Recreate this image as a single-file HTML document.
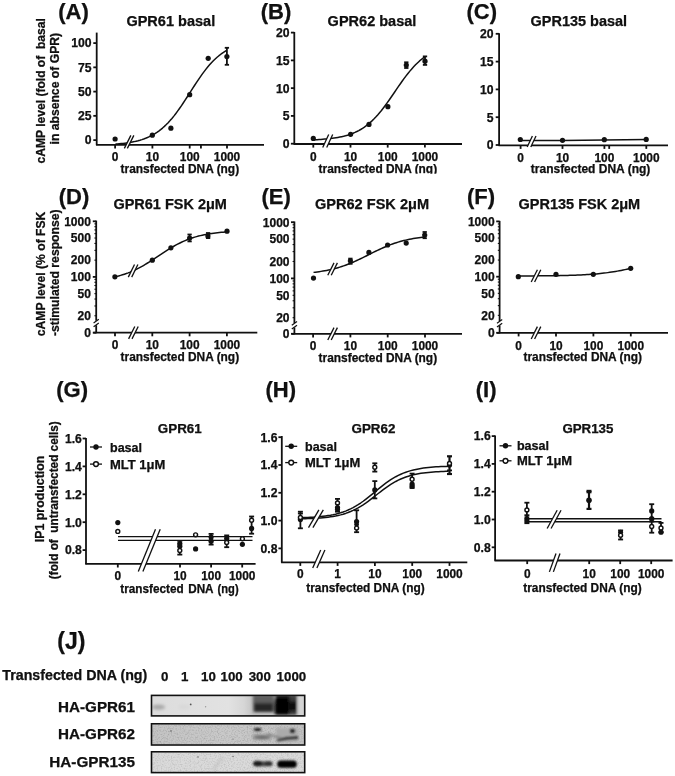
<!DOCTYPE html>
<html><head><meta charset="utf-8"><style>
html,body{margin:0;padding:0;background:#fff;}
svg{display:block;font-family:"Liberation Sans", sans-serif;filter:grayscale(1);}
text{stroke:#000;stroke-width:0.25px;stroke-linejoin:round;}
</style></head><body>
<svg width="675" height="776" viewBox="0 0 675 776">
<defs><filter id="soft" x="0" y="0" width="675" height="776" filterUnits="userSpaceOnUse"><feConvolveMatrix order="3" kernelMatrix="0.00000 0.00000 0.00000 0.00000 1.00000 0.00000 0.00000 0.00000 0.00000" edgeMode="duplicate"/></filter></defs>
<rect width="675" height="776" fill="#fff"/>
<g>
<rect width="675" height="776" fill="#fff"/>
<text x="58.2" y="18.8" font-size="22" text-anchor="start" font-weight="bold" fill="#111">(A)</text>
<text x="126.4" y="25.9" font-size="14.5" text-anchor="start" font-weight="bold" fill="#111" textLength="88.8" lengthAdjust="spacingAndGlyphs">GPR61 basal</text>
<text transform="translate(44.5 163.4) rotate(-90)" font-size="12.2" text-anchor="start" font-weight="bold" fill="#111" textLength="145.2" lengthAdjust="spacingAndGlyphs">cAMP level (fold of &#160;basal</text>
<text transform="translate(59.3 144.5) rotate(-90)" font-size="12.2" text-anchor="start" font-weight="bold" fill="#111" textLength="111.6" lengthAdjust="spacingAndGlyphs">in absence of GPR)</text>
<line x1="96.7" y1="32.6" x2="96.7" y2="145.2" stroke="#111" stroke-width="1.8"/>
<line x1="93.3" y1="140.1" x2="96.7" y2="140.1" stroke="#111" stroke-width="1.8"/>
<text x="91.6" y="144.49" font-size="12.2" text-anchor="end" font-weight="bold" fill="#111">0</text>
<line x1="93.3" y1="115.85" x2="96.7" y2="115.85" stroke="#111" stroke-width="1.8"/>
<text x="91.6" y="120.24" font-size="12.2" text-anchor="end" font-weight="bold" fill="#111">25</text>
<line x1="93.3" y1="91.6" x2="96.7" y2="91.6" stroke="#111" stroke-width="1.8"/>
<text x="91.6" y="95.99" font-size="12.2" text-anchor="end" font-weight="bold" fill="#111">50</text>
<line x1="93.3" y1="67.35" x2="96.7" y2="67.35" stroke="#111" stroke-width="1.8"/>
<text x="91.6" y="71.74" font-size="12.2" text-anchor="end" font-weight="bold" fill="#111">75</text>
<line x1="93.3" y1="43.1" x2="96.7" y2="43.1" stroke="#111" stroke-width="1.8"/>
<text x="91.6" y="47.49" font-size="12.2" text-anchor="end" font-weight="bold" fill="#111">100</text>
<line x1="96.1" y1="144.9" x2="264" y2="144.9" stroke="#111" stroke-width="1.8"/>
<line x1="115.1" y1="144.9" x2="115.1" y2="148.5" stroke="#111" stroke-width="1.8"/>
<text x="115.1" y="160.93" font-size="11.9" text-anchor="middle" font-weight="bold" fill="#111">0</text>
<line x1="152.4" y1="144.9" x2="152.4" y2="148.5" stroke="#111" stroke-width="1.8"/>
<text x="152.4" y="160.93" font-size="11.9" text-anchor="middle" font-weight="bold" fill="#111">10</text>
<line x1="189.7" y1="144.9" x2="189.7" y2="148.5" stroke="#111" stroke-width="1.8"/>
<text x="189.7" y="160.93" font-size="11.9" text-anchor="middle" font-weight="bold" fill="#111">100</text>
<line x1="200.93" y1="144.9" x2="200.93" y2="148.5" stroke="#111" stroke-width="1.8"/>
<line x1="227" y1="144.9" x2="227" y2="148.5" stroke="#111" stroke-width="1.8"/>
<text x="227" y="160.93" font-size="11.9" text-anchor="middle" font-weight="bold" fill="#111">1000</text>
<text x="120.6" y="173.4" font-size="12" text-anchor="start" font-weight="bold" fill="#111" textLength="118.5" lengthAdjust="spacingAndGlyphs">transfected DNA (ng)</text>
<path d="M115.5 144.09 L117.38 143.94 L119.26 143.78 L121.14 143.6 L123.03 143.4 L124.91 143.17 L126.79 142.92 L128.67 142.64 L130.55 142.33 L132.43 141.99 L134.31 141.61 L136.19 141.18 L138.08 140.71 L139.96 140.19 L141.84 139.62 L143.72 138.98 L145.6 138.28 L147.48 137.51 L149.36 136.66 L151.25 135.73 L153.13 134.71 L155.01 133.59 L156.89 132.37 L158.77 131.05 L160.65 129.61 L162.53 128.05 L164.42 126.38 L166.3 124.58 L168.18 122.65 L170.06 120.6 L171.94 118.42 L173.82 116.12 L175.7 113.7 L177.58 111.17 L179.47 108.54 L181.35 105.82 L183.23 103.02 L185.11 100.16 L186.99 97.25 L188.87 94.31 L190.75 91.36 L192.64 88.42 L194.52 85.5 L196.4 82.62 L198.28 79.81 L200.16 77.06 L202.04 74.41 L203.92 71.85 L205.81 69.41 L207.69 67.07 L209.57 64.86 L211.45 62.78 L213.33 60.82 L215.21 58.99 L217.09 57.28 L218.97 55.7 L220.86 54.23 L222.74 52.88 L224.62 51.63 L226.5 50.49" fill="none" stroke="#111" stroke-width="1.5" stroke-linejoin="round"/>
<polygon points="124.35,148.4 130.85,135.4 133.85,135.4 127.35,148.4" fill="#fff"/>
<line x1="124.35" y1="148.4" x2="130.85" y2="135.4" stroke="#111" stroke-width="1.3"/>
<line x1="127.35" y1="148.4" x2="133.85" y2="135.4" stroke="#111" stroke-width="1.3"/>
<circle cx="115.1" cy="139" r="2.6" fill="#111"/>
<circle cx="152.3" cy="135.2" r="2.6" fill="#111"/>
<circle cx="170.9" cy="128.2" r="2.6" fill="#111"/>
<circle cx="189.7" cy="94.7" r="2.6" fill="#111"/>
<circle cx="208.2" cy="58.3" r="2.6" fill="#111"/>
<circle cx="226.9" cy="56.6" r="2.6" fill="#111"/>
<line x1="226.9" y1="47.8" x2="226.9" y2="64.8" stroke="#111" stroke-width="1.8"/>
<line x1="224.75" y1="47.8" x2="229.05" y2="47.8" stroke="#111" stroke-width="1.8"/>
<line x1="224.75" y1="64.8" x2="229.05" y2="64.8" stroke="#111" stroke-width="1.8"/>
<text x="260.8" y="18.8" font-size="22" text-anchor="start" font-weight="bold" fill="#111">(B)</text>
<text x="327.6" y="25.9" font-size="14.5" text-anchor="start" font-weight="bold" fill="#111" textLength="88.8" lengthAdjust="spacingAndGlyphs">GPR62 basal</text>
<line x1="294.3" y1="32" x2="294.3" y2="144.2" stroke="#111" stroke-width="1.8"/>
<line x1="290.9" y1="143.7" x2="294.3" y2="143.7" stroke="#111" stroke-width="1.8"/>
<text x="289.6" y="148.09" font-size="12.2" text-anchor="end" font-weight="bold" fill="#111">0</text>
<line x1="290.9" y1="115.92" x2="294.3" y2="115.92" stroke="#111" stroke-width="1.8"/>
<text x="289.6" y="120.32" font-size="12.2" text-anchor="end" font-weight="bold" fill="#111">5</text>
<line x1="290.9" y1="88.15" x2="294.3" y2="88.15" stroke="#111" stroke-width="1.8"/>
<text x="289.6" y="92.54" font-size="12.2" text-anchor="end" font-weight="bold" fill="#111">10</text>
<line x1="290.9" y1="60.38" x2="294.3" y2="60.38" stroke="#111" stroke-width="1.8"/>
<text x="289.6" y="64.77" font-size="12.2" text-anchor="end" font-weight="bold" fill="#111">15</text>
<line x1="290.9" y1="32.6" x2="294.3" y2="32.6" stroke="#111" stroke-width="1.8"/>
<text x="289.6" y="36.99" font-size="12.2" text-anchor="end" font-weight="bold" fill="#111">20</text>
<line x1="293.6" y1="144" x2="462" y2="144" stroke="#111" stroke-width="1.8"/>
<line x1="313.3" y1="144" x2="313.3" y2="147.6" stroke="#111" stroke-width="1.8"/>
<text x="313.3" y="160.93" font-size="11.9" text-anchor="middle" font-weight="bold" fill="#111">0</text>
<line x1="350.5" y1="144" x2="350.5" y2="147.6" stroke="#111" stroke-width="1.8"/>
<text x="350.5" y="160.93" font-size="11.9" text-anchor="middle" font-weight="bold" fill="#111">10</text>
<line x1="387.7" y1="144" x2="387.7" y2="147.6" stroke="#111" stroke-width="1.8"/>
<text x="387.7" y="160.93" font-size="11.9" text-anchor="middle" font-weight="bold" fill="#111">100</text>
<line x1="424.9" y1="144" x2="424.9" y2="147.6" stroke="#111" stroke-width="1.8"/>
<text x="424.9" y="160.93" font-size="11.9" text-anchor="middle" font-weight="bold" fill="#111">1000</text>
<text x="318.6" y="173.4" font-size="12" text-anchor="start" font-weight="bold" fill="#111" textLength="118.5" lengthAdjust="spacingAndGlyphs">transfected DNA (ng)</text>
<rect x="300" y="173.7" width="160" height="6" fill="#fff"/>
<path d="M313.3 139.81 L315.19 139.73 L317.09 139.63 L318.98 139.53 L320.87 139.41 L322.77 139.27 L324.66 139.12 L326.55 138.95 L328.45 138.77 L330.34 138.56 L332.23 138.33 L334.13 138.07 L336.02 137.78 L337.91 137.46 L339.81 137.1 L341.7 136.7 L343.59 136.26 L345.48 135.77 L347.38 135.23 L349.27 134.63 L351.16 133.96 L353.06 133.23 L354.95 132.42 L356.84 131.53 L358.74 130.56 L360.63 129.49 L362.52 128.33 L364.42 127.06 L366.31 125.68 L368.2 124.19 L370.1 122.58 L371.99 120.85 L373.88 119 L375.78 117.03 L377.67 114.94 L379.56 112.73 L381.46 110.42 L383.35 108 L385.24 105.48 L387.14 102.88 L389.03 100.22 L390.92 97.5 L392.82 94.75 L394.71 91.97 L396.6 89.2 L398.49 86.44 L400.39 83.71 L402.28 81.04 L404.17 78.43 L406.07 75.9 L407.96 73.46 L409.85 71.13 L411.75 68.9 L413.64 66.79 L415.53 64.8 L417.43 62.93 L419.32 61.18 L421.21 59.55 L423.11 58.04 L425 56.64" fill="none" stroke="#111" stroke-width="1.5" stroke-linejoin="round"/>
<polygon points="322.7,147.5 328.7,134.5 332.7,134.5 326.7,147.5" fill="#fff"/>
<line x1="322.7" y1="147.5" x2="328.7" y2="134.5" stroke="#111" stroke-width="1.3"/>
<line x1="326.7" y1="147.5" x2="332.7" y2="134.5" stroke="#111" stroke-width="1.3"/>
<circle cx="313.3" cy="138.4" r="2.6" fill="#111"/>
<circle cx="350.6" cy="134.3" r="2.6" fill="#111"/>
<circle cx="369" cy="124.4" r="2.6" fill="#111"/>
<circle cx="387.9" cy="106.7" r="2.6" fill="#111"/>
<circle cx="406.3" cy="65.1" r="2.6" fill="#111"/>
<circle cx="425" cy="61.2" r="2.6" fill="#111"/>
<line x1="406.3" y1="62.3" x2="406.3" y2="68" stroke="#111" stroke-width="1.8"/>
<line x1="404.15" y1="62.3" x2="408.45" y2="62.3" stroke="#111" stroke-width="1.8"/>
<line x1="404.15" y1="68" x2="408.45" y2="68" stroke="#111" stroke-width="1.8"/>
<line x1="425" y1="56.4" x2="425" y2="64.9" stroke="#111" stroke-width="1.8"/>
<line x1="422.85" y1="56.4" x2="427.15" y2="56.4" stroke="#111" stroke-width="1.8"/>
<line x1="422.85" y1="64.9" x2="427.15" y2="64.9" stroke="#111" stroke-width="1.8"/>
<text x="466.5" y="18.8" font-size="22" text-anchor="start" font-weight="bold" fill="#111">(C)</text>
<text x="530.6" y="25.9" font-size="14.5" text-anchor="start" font-weight="bold" fill="#111" textLength="96.5" lengthAdjust="spacingAndGlyphs">GPR135 basal</text>
<line x1="499.1" y1="33.3" x2="499.1" y2="145.6" stroke="#111" stroke-width="1.8"/>
<line x1="495.7" y1="145" x2="499.1" y2="145" stroke="#111" stroke-width="1.8"/>
<text x="493.6" y="149.39" font-size="12.2" text-anchor="end" font-weight="bold" fill="#111">0</text>
<line x1="495.7" y1="117.2" x2="499.1" y2="117.2" stroke="#111" stroke-width="1.8"/>
<text x="493.6" y="121.59" font-size="12.2" text-anchor="end" font-weight="bold" fill="#111">5</text>
<line x1="495.7" y1="89.4" x2="499.1" y2="89.4" stroke="#111" stroke-width="1.8"/>
<text x="493.6" y="93.79" font-size="12.2" text-anchor="end" font-weight="bold" fill="#111">10</text>
<line x1="495.7" y1="61.6" x2="499.1" y2="61.6" stroke="#111" stroke-width="1.8"/>
<text x="493.6" y="65.99" font-size="12.2" text-anchor="end" font-weight="bold" fill="#111">15</text>
<line x1="495.7" y1="33.8" x2="499.1" y2="33.8" stroke="#111" stroke-width="1.8"/>
<text x="493.6" y="38.19" font-size="12.2" text-anchor="end" font-weight="bold" fill="#111">20</text>
<line x1="498.5" y1="145.3" x2="668" y2="145.3" stroke="#111" stroke-width="1.8"/>
<line x1="520.6" y1="145.3" x2="520.6" y2="148.9" stroke="#111" stroke-width="1.8"/>
<text x="520.6" y="161.63" font-size="11.9" text-anchor="middle" font-weight="bold" fill="#111">0</text>
<line x1="562.5" y1="145.3" x2="562.5" y2="148.9" stroke="#111" stroke-width="1.8"/>
<text x="562.5" y="161.63" font-size="11.9" text-anchor="middle" font-weight="bold" fill="#111">10</text>
<line x1="604.4" y1="145.3" x2="604.4" y2="148.9" stroke="#111" stroke-width="1.8"/>
<text x="604.4" y="161.63" font-size="11.9" text-anchor="middle" font-weight="bold" fill="#111">100</text>
<line x1="609.2" y1="145.3" x2="609.2" y2="148.9" stroke="#111" stroke-width="1.8"/>
<line x1="646.3" y1="145.3" x2="646.3" y2="148.9" stroke="#111" stroke-width="1.8"/>
<text x="646.3" y="161.63" font-size="11.9" text-anchor="middle" font-weight="bold" fill="#111">1000</text>
<text x="530.8" y="173.1" font-size="12" text-anchor="start" font-weight="bold" fill="#111" textLength="119.5" lengthAdjust="spacingAndGlyphs">transfected DNA (ng)</text>
<path d="M520.3 140.6 L562.5 140.4 L604.3 140 L646.2 139.4" fill="none" stroke="#111" stroke-width="1.5" stroke-linejoin="round"/>
<polygon points="527.2,147 532.4,136 536,136 530.8,147" fill="#fff"/>
<line x1="527.2" y1="147" x2="532.4" y2="136" stroke="#111" stroke-width="1.3"/>
<line x1="530.8" y1="147" x2="536" y2="136" stroke="#111" stroke-width="1.3"/>
<circle cx="520.3" cy="139.5" r="2.6" fill="#111"/>
<circle cx="562.5" cy="140.3" r="2.6" fill="#111"/>
<circle cx="604.3" cy="139.7" r="2.6" fill="#111"/>
<circle cx="646.2" cy="139.4" r="2.6" fill="#111"/>
<text x="58.8" y="204" font-size="22" text-anchor="start" font-weight="bold" fill="#111">(D)</text>
<text x="113.4" y="209.3" font-size="14.5" text-anchor="start" font-weight="bold" fill="#111" textLength="113.5" lengthAdjust="spacingAndGlyphs">GPR61 FSK 2μM</text>
<text transform="translate(44.6 336.2) rotate(-90)" font-size="12.1" text-anchor="start" font-weight="bold" fill="#111" textLength="124.6" lengthAdjust="spacingAndGlyphs">cAMP level (% of FSK</text>
<text transform="translate(59.4 336) rotate(-90)" font-size="12.1" text-anchor="start" font-weight="bold" fill="#111" textLength="126.6" lengthAdjust="spacingAndGlyphs">-stimulated response)</text>
<line x1="96.2" y1="220.6" x2="96.2" y2="320.8" stroke="#111" stroke-width="1.8"/>
<line x1="96.2" y1="325.2" x2="96.2" y2="333.2" stroke="#111" stroke-width="1.8"/>
<text x="90.9" y="320.08" font-size="12" text-anchor="end" font-weight="bold" fill="#111">20</text>
<text x="90.9" y="297.96" font-size="12" text-anchor="end" font-weight="bold" fill="#111">50</text>
<text x="90.9" y="281.22" font-size="12" text-anchor="end" font-weight="bold" fill="#111">100</text>
<text x="90.9" y="264.48" font-size="12" text-anchor="end" font-weight="bold" fill="#111">200</text>
<text x="90.9" y="242.36" font-size="12" text-anchor="end" font-weight="bold" fill="#111">500</text>
<text x="90.9" y="225.62" font-size="12" text-anchor="end" font-weight="bold" fill="#111">1000</text>
<line x1="92.8" y1="276.9" x2="96.2" y2="276.9" stroke="#111" stroke-width="1.8"/>
<line x1="92.8" y1="221.3" x2="96.2" y2="221.3" stroke="#111" stroke-width="1.8"/>
<line x1="92.8" y1="332.7" x2="96.2" y2="332.7" stroke="#111" stroke-width="1.8"/>
<text x="90.9" y="337.02" font-size="12" text-anchor="end" font-weight="bold" fill="#111">0</text>
<line x1="94.4" y1="315.76" x2="96.2" y2="315.76" stroke="#111" stroke-width="1.1"/>
<line x1="94.4" y1="305.97" x2="96.2" y2="305.97" stroke="#111" stroke-width="1.1"/>
<line x1="94.4" y1="299.03" x2="96.2" y2="299.03" stroke="#111" stroke-width="1.1"/>
<line x1="94.4" y1="293.64" x2="96.2" y2="293.64" stroke="#111" stroke-width="1.1"/>
<line x1="94.4" y1="289.23" x2="96.2" y2="289.23" stroke="#111" stroke-width="1.1"/>
<line x1="94.4" y1="285.51" x2="96.2" y2="285.51" stroke="#111" stroke-width="1.1"/>
<line x1="94.4" y1="282.29" x2="96.2" y2="282.29" stroke="#111" stroke-width="1.1"/>
<line x1="94.4" y1="279.44" x2="96.2" y2="279.44" stroke="#111" stroke-width="1.1"/>
<line x1="94.4" y1="260.16" x2="96.2" y2="260.16" stroke="#111" stroke-width="1.1"/>
<line x1="94.4" y1="250.37" x2="96.2" y2="250.37" stroke="#111" stroke-width="1.1"/>
<line x1="94.4" y1="243.43" x2="96.2" y2="243.43" stroke="#111" stroke-width="1.1"/>
<line x1="94.4" y1="238.04" x2="96.2" y2="238.04" stroke="#111" stroke-width="1.1"/>
<line x1="94.4" y1="233.63" x2="96.2" y2="233.63" stroke="#111" stroke-width="1.1"/>
<line x1="94.4" y1="229.91" x2="96.2" y2="229.91" stroke="#111" stroke-width="1.1"/>
<line x1="94.4" y1="226.69" x2="96.2" y2="226.69" stroke="#111" stroke-width="1.1"/>
<line x1="94.4" y1="223.84" x2="96.2" y2="223.84" stroke="#111" stroke-width="1.1"/>
<polygon points="93.6,323 98.8,319.2 98.8,323 93.6,326.8" fill="#fff"/>
<line x1="93.6" y1="323" x2="98.8" y2="319.2" stroke="#111" stroke-width="1.2"/>
<line x1="93.6" y1="326.8" x2="98.8" y2="323" stroke="#111" stroke-width="1.2"/>
<line x1="93.4" y1="332.7" x2="257.3" y2="332.7" stroke="#111" stroke-width="1.8"/>
<line x1="115" y1="332.7" x2="115" y2="336.3" stroke="#111" stroke-width="1.8"/>
<text x="115" y="348.93" font-size="11.9" text-anchor="middle" font-weight="bold" fill="#111">0</text>
<line x1="152.3" y1="332.7" x2="152.3" y2="336.3" stroke="#111" stroke-width="1.8"/>
<text x="152.3" y="348.93" font-size="11.9" text-anchor="middle" font-weight="bold" fill="#111">10</text>
<line x1="189.6" y1="332.7" x2="189.6" y2="336.3" stroke="#111" stroke-width="1.8"/>
<text x="189.6" y="348.93" font-size="11.9" text-anchor="middle" font-weight="bold" fill="#111">100</text>
<line x1="226.9" y1="332.7" x2="226.9" y2="336.3" stroke="#111" stroke-width="1.8"/>
<text x="226.9" y="348.93" font-size="11.9" text-anchor="middle" font-weight="bold" fill="#111">1000</text>
<text x="120.6" y="360.5" font-size="12" text-anchor="start" font-weight="bold" fill="#111" textLength="118.5" lengthAdjust="spacingAndGlyphs">transfected DNA (ng)</text>
<path d="M114.9 276.84 L116.8 276.39 L118.7 275.9 L120.6 275.37 L122.5 274.8 L124.4 274.19 L126.3 273.54 L128.2 272.84 L130.1 272.09 L132 271.29 L133.9 270.45 L135.8 269.56 L137.7 268.62 L139.6 267.63 L141.5 266.6 L143.4 265.53 L145.3 264.41 L147.2 263.26 L149.1 262.08 L151 260.87 L152.9 259.64 L154.8 258.39 L156.7 257.12 L158.6 255.86 L160.5 254.59 L162.4 253.33 L164.3 252.09 L166.2 250.86 L168.1 249.66 L170 248.49 L171.9 247.35 L173.8 246.25 L175.7 245.19 L177.6 244.18 L179.5 243.21 L181.4 242.29 L183.3 241.41 L185.2 240.58 L187.1 239.8 L189 239.07 L190.9 238.39 L192.8 237.75 L194.7 237.15 L196.6 236.6 L198.5 236.09 L200.4 235.61 L202.3 235.17 L204.2 234.77 L206.1 234.39 L208 234.05 L209.9 233.73 L211.8 233.44 L213.7 233.18 L215.6 232.94 L217.5 232.72 L219.4 232.51 L221.3 232.33 L223.2 232.16 L225.1 232.01 L227 231.87" fill="none" stroke="#111" stroke-width="1.5" stroke-linejoin="round"/>
<polygon points="128.3,277.1 134.5,264.5 137.9,264.5 131.7,277.1" fill="#fff"/>
<line x1="128.3" y1="277.1" x2="134.5" y2="264.5" stroke="#111" stroke-width="1.3"/>
<line x1="131.7" y1="277.1" x2="137.9" y2="264.5" stroke="#111" stroke-width="1.3"/>
<polygon points="128.6,338.9 134.8,326.5 138.2,326.5 132,338.9" fill="#fff"/>
<line x1="128.6" y1="338.9" x2="134.8" y2="326.5" stroke="#111" stroke-width="1.3"/>
<line x1="132" y1="338.9" x2="138.2" y2="326.5" stroke="#111" stroke-width="1.3"/>
<circle cx="114.9" cy="276.8" r="2.6" fill="#111"/>
<circle cx="152.3" cy="260.2" r="2.6" fill="#111"/>
<circle cx="170.9" cy="247.8" r="2.6" fill="#111"/>
<circle cx="189.6" cy="238" r="2.6" fill="#111"/>
<circle cx="207.9" cy="235.9" r="2.6" fill="#111"/>
<circle cx="227" cy="231.2" r="2.6" fill="#111"/>
<line x1="189.6" y1="234.5" x2="189.6" y2="241.4" stroke="#111" stroke-width="1.8"/>
<line x1="187.45" y1="234.5" x2="191.75" y2="234.5" stroke="#111" stroke-width="1.8"/>
<line x1="187.45" y1="241.4" x2="191.75" y2="241.4" stroke="#111" stroke-width="1.8"/>
<line x1="208.1" y1="233" x2="208.1" y2="238.1" stroke="#111" stroke-width="1.8"/>
<line x1="205.95" y1="233" x2="210.25" y2="233" stroke="#111" stroke-width="1.8"/>
<line x1="205.95" y1="238.1" x2="210.25" y2="238.1" stroke="#111" stroke-width="1.8"/>
<text x="261.5" y="204" font-size="22" text-anchor="start" font-weight="bold" fill="#111">(E)</text>
<text x="315" y="209.3" font-size="14.5" text-anchor="start" font-weight="bold" fill="#111" textLength="114" lengthAdjust="spacingAndGlyphs">GPR62 FSK 2μM</text>
<line x1="294.4" y1="221.5" x2="294.4" y2="323.1" stroke="#111" stroke-width="1.8"/>
<line x1="294.4" y1="327.5" x2="294.4" y2="334.3" stroke="#111" stroke-width="1.8"/>
<text x="289.5" y="322" font-size="12" text-anchor="end" font-weight="bold" fill="#111">20</text>
<text x="289.5" y="299.64" font-size="12" text-anchor="end" font-weight="bold" fill="#111">50</text>
<text x="289.5" y="282.72" font-size="12" text-anchor="end" font-weight="bold" fill="#111">100</text>
<text x="289.5" y="265.8" font-size="12" text-anchor="end" font-weight="bold" fill="#111">200</text>
<text x="289.5" y="243.44" font-size="12" text-anchor="end" font-weight="bold" fill="#111">500</text>
<text x="289.5" y="226.52" font-size="12" text-anchor="end" font-weight="bold" fill="#111">1000</text>
<line x1="291" y1="278.4" x2="294.4" y2="278.4" stroke="#111" stroke-width="1.8"/>
<line x1="291" y1="222.2" x2="294.4" y2="222.2" stroke="#111" stroke-width="1.8"/>
<line x1="291" y1="333.8" x2="294.4" y2="333.8" stroke="#111" stroke-width="1.8"/>
<text x="289.5" y="338.12" font-size="12" text-anchor="end" font-weight="bold" fill="#111">0</text>
<line x1="292.6" y1="317.68" x2="294.4" y2="317.68" stroke="#111" stroke-width="1.1"/>
<line x1="292.6" y1="307.79" x2="294.4" y2="307.79" stroke="#111" stroke-width="1.1"/>
<line x1="292.6" y1="300.76" x2="294.4" y2="300.76" stroke="#111" stroke-width="1.1"/>
<line x1="292.6" y1="295.32" x2="294.4" y2="295.32" stroke="#111" stroke-width="1.1"/>
<line x1="292.6" y1="290.87" x2="294.4" y2="290.87" stroke="#111" stroke-width="1.1"/>
<line x1="292.6" y1="287.11" x2="294.4" y2="287.11" stroke="#111" stroke-width="1.1"/>
<line x1="292.6" y1="283.85" x2="294.4" y2="283.85" stroke="#111" stroke-width="1.1"/>
<line x1="292.6" y1="280.97" x2="294.4" y2="280.97" stroke="#111" stroke-width="1.1"/>
<line x1="292.6" y1="261.48" x2="294.4" y2="261.48" stroke="#111" stroke-width="1.1"/>
<line x1="292.6" y1="251.59" x2="294.4" y2="251.59" stroke="#111" stroke-width="1.1"/>
<line x1="292.6" y1="244.56" x2="294.4" y2="244.56" stroke="#111" stroke-width="1.1"/>
<line x1="292.6" y1="239.12" x2="294.4" y2="239.12" stroke="#111" stroke-width="1.1"/>
<line x1="292.6" y1="234.67" x2="294.4" y2="234.67" stroke="#111" stroke-width="1.1"/>
<line x1="292.6" y1="230.91" x2="294.4" y2="230.91" stroke="#111" stroke-width="1.1"/>
<line x1="292.6" y1="227.65" x2="294.4" y2="227.65" stroke="#111" stroke-width="1.1"/>
<line x1="292.6" y1="224.77" x2="294.4" y2="224.77" stroke="#111" stroke-width="1.1"/>
<polygon points="291.8,325.3 297,321.5 297,325.3 291.8,329.1" fill="#fff"/>
<line x1="291.8" y1="325.3" x2="297" y2="321.5" stroke="#111" stroke-width="1.2"/>
<line x1="291.8" y1="329.1" x2="297" y2="325.3" stroke="#111" stroke-width="1.2"/>
<line x1="291.6" y1="333.8" x2="462" y2="333.8" stroke="#111" stroke-width="1.8"/>
<line x1="313.1" y1="333.8" x2="313.1" y2="337.4" stroke="#111" stroke-width="1.8"/>
<text x="313.1" y="349.63" font-size="11.9" text-anchor="middle" font-weight="bold" fill="#111">0</text>
<line x1="350.4" y1="333.8" x2="350.4" y2="337.4" stroke="#111" stroke-width="1.8"/>
<text x="350.4" y="349.63" font-size="11.9" text-anchor="middle" font-weight="bold" fill="#111">10</text>
<line x1="387.7" y1="333.8" x2="387.7" y2="337.4" stroke="#111" stroke-width="1.8"/>
<text x="387.7" y="349.63" font-size="11.9" text-anchor="middle" font-weight="bold" fill="#111">100</text>
<line x1="425" y1="333.8" x2="425" y2="337.4" stroke="#111" stroke-width="1.8"/>
<text x="425" y="349.63" font-size="11.9" text-anchor="middle" font-weight="bold" fill="#111">1000</text>
<text x="318.6" y="361.8" font-size="12" text-anchor="start" font-weight="bold" fill="#111" textLength="118.5" lengthAdjust="spacingAndGlyphs">transfected DNA (ng)</text>
<path d="M313.5 272.37 L315.38 272.15 L317.26 271.91 L319.14 271.66 L321.03 271.38 L322.91 271.08 L324.79 270.75 L326.67 270.4 L328.55 270.02 L330.43 269.61 L332.31 269.18 L334.19 268.71 L336.08 268.21 L337.96 267.68 L339.84 267.11 L341.72 266.51 L343.6 265.88 L345.48 265.21 L347.36 264.5 L349.25 263.77 L351.13 263 L353.01 262.2 L354.89 261.37 L356.77 260.52 L358.65 259.64 L360.53 258.74 L362.42 257.83 L364.3 256.9 L366.18 255.96 L368.06 255.01 L369.94 254.07 L371.82 253.13 L373.7 252.19 L375.58 251.27 L377.47 250.36 L379.35 249.47 L381.23 248.6 L383.11 247.75 L384.99 246.94 L386.87 246.15 L388.75 245.39 L390.64 244.67 L392.52 243.98 L394.4 243.33 L396.28 242.71 L398.16 242.12 L400.04 241.57 L401.92 241.05 L403.81 240.56 L405.69 240.11 L407.57 239.68 L409.45 239.29 L411.33 238.92 L413.21 238.58 L415.09 238.27 L416.97 237.97 L418.86 237.7 L420.74 237.46 L422.62 237.23 L424.5 237.02" fill="none" stroke="#111" stroke-width="1.5" stroke-linejoin="round"/>
<polygon points="327.8,275.31 334,262.91 337.4,262.91 331.2,275.31" fill="#fff"/>
<line x1="327.8" y1="275.31" x2="334" y2="262.91" stroke="#111" stroke-width="1.3"/>
<line x1="331.2" y1="275.31" x2="337.4" y2="262.91" stroke="#111" stroke-width="1.3"/>
<polygon points="327.8,340 334,327.6 337.4,327.6 331.2,340" fill="#fff"/>
<line x1="327.8" y1="340" x2="334" y2="327.6" stroke="#111" stroke-width="1.3"/>
<line x1="331.2" y1="340" x2="337.4" y2="327.6" stroke="#111" stroke-width="1.3"/>
<circle cx="313.5" cy="278.1" r="2.6" fill="#111"/>
<circle cx="350.4" cy="260.8" r="2.6" fill="#111"/>
<circle cx="368.9" cy="252.4" r="2.6" fill="#111"/>
<circle cx="387.6" cy="245" r="2.6" fill="#111"/>
<circle cx="406.2" cy="243.1" r="2.6" fill="#111"/>
<circle cx="424.7" cy="235.1" r="2.6" fill="#111"/>
<line x1="350.4" y1="258.6" x2="350.4" y2="263.8" stroke="#111" stroke-width="1.8"/>
<line x1="348.25" y1="258.6" x2="352.55" y2="258.6" stroke="#111" stroke-width="1.8"/>
<line x1="348.25" y1="263.8" x2="352.55" y2="263.8" stroke="#111" stroke-width="1.8"/>
<line x1="424.7" y1="232" x2="424.7" y2="238.2" stroke="#111" stroke-width="1.8"/>
<line x1="422.55" y1="232" x2="426.85" y2="232" stroke="#111" stroke-width="1.8"/>
<line x1="422.55" y1="238.2" x2="426.85" y2="238.2" stroke="#111" stroke-width="1.8"/>
<text x="467" y="204" font-size="22" text-anchor="start" font-weight="bold" fill="#111">(F)</text>
<text x="518.5" y="209.3" font-size="14.5" text-anchor="start" font-weight="bold" fill="#111" textLength="121.7" lengthAdjust="spacingAndGlyphs">GPR135 FSK 2μM</text>
<line x1="499.6" y1="220.9" x2="499.6" y2="321" stroke="#111" stroke-width="1.8"/>
<line x1="499.6" y1="325.4" x2="499.6" y2="333.3" stroke="#111" stroke-width="1.8"/>
<text x="494.6" y="319.67" font-size="12" text-anchor="end" font-weight="bold" fill="#111">20</text>
<text x="494.6" y="297.67" font-size="12" text-anchor="end" font-weight="bold" fill="#111">50</text>
<text x="494.6" y="281.02" font-size="12" text-anchor="end" font-weight="bold" fill="#111">100</text>
<text x="494.6" y="264.37" font-size="12" text-anchor="end" font-weight="bold" fill="#111">200</text>
<text x="494.6" y="242.37" font-size="12" text-anchor="end" font-weight="bold" fill="#111">500</text>
<text x="494.6" y="225.72" font-size="12" text-anchor="end" font-weight="bold" fill="#111">1000</text>
<line x1="496.2" y1="276.7" x2="499.6" y2="276.7" stroke="#111" stroke-width="1.8"/>
<line x1="496.2" y1="221.4" x2="499.6" y2="221.4" stroke="#111" stroke-width="1.8"/>
<line x1="496.2" y1="332.8" x2="499.6" y2="332.8" stroke="#111" stroke-width="1.8"/>
<text x="494.6" y="337.12" font-size="12" text-anchor="end" font-weight="bold" fill="#111">0</text>
<line x1="497.8" y1="315.35" x2="499.6" y2="315.35" stroke="#111" stroke-width="1.1"/>
<line x1="497.8" y1="305.62" x2="499.6" y2="305.62" stroke="#111" stroke-width="1.1"/>
<line x1="497.8" y1="298.71" x2="499.6" y2="298.71" stroke="#111" stroke-width="1.1"/>
<line x1="497.8" y1="293.35" x2="499.6" y2="293.35" stroke="#111" stroke-width="1.1"/>
<line x1="497.8" y1="288.97" x2="499.6" y2="288.97" stroke="#111" stroke-width="1.1"/>
<line x1="497.8" y1="285.27" x2="499.6" y2="285.27" stroke="#111" stroke-width="1.1"/>
<line x1="497.8" y1="282.06" x2="499.6" y2="282.06" stroke="#111" stroke-width="1.1"/>
<line x1="497.8" y1="279.23" x2="499.6" y2="279.23" stroke="#111" stroke-width="1.1"/>
<line x1="497.8" y1="260.05" x2="499.6" y2="260.05" stroke="#111" stroke-width="1.1"/>
<line x1="497.8" y1="250.32" x2="499.6" y2="250.32" stroke="#111" stroke-width="1.1"/>
<line x1="497.8" y1="243.41" x2="499.6" y2="243.41" stroke="#111" stroke-width="1.1"/>
<line x1="497.8" y1="238.05" x2="499.6" y2="238.05" stroke="#111" stroke-width="1.1"/>
<line x1="497.8" y1="233.67" x2="499.6" y2="233.67" stroke="#111" stroke-width="1.1"/>
<line x1="497.8" y1="229.97" x2="499.6" y2="229.97" stroke="#111" stroke-width="1.1"/>
<line x1="497.8" y1="226.76" x2="499.6" y2="226.76" stroke="#111" stroke-width="1.1"/>
<line x1="497.8" y1="223.93" x2="499.6" y2="223.93" stroke="#111" stroke-width="1.1"/>
<polygon points="497,323.2 502.2,319.4 502.2,323.2 497,327" fill="#fff"/>
<line x1="497" y1="323.2" x2="502.2" y2="319.4" stroke="#111" stroke-width="1.2"/>
<line x1="497" y1="327" x2="502.2" y2="323.2" stroke="#111" stroke-width="1.2"/>
<line x1="496.8" y1="332.8" x2="668" y2="332.8" stroke="#111" stroke-width="1.8"/>
<line x1="518.6" y1="332.8" x2="518.6" y2="336.4" stroke="#111" stroke-width="1.8"/>
<text x="518.6" y="349.53" font-size="11.9" text-anchor="middle" font-weight="bold" fill="#111">0</text>
<line x1="556" y1="332.8" x2="556" y2="336.4" stroke="#111" stroke-width="1.8"/>
<text x="556" y="349.53" font-size="11.9" text-anchor="middle" font-weight="bold" fill="#111">10</text>
<line x1="593.4" y1="332.8" x2="593.4" y2="336.4" stroke="#111" stroke-width="1.8"/>
<text x="593.4" y="349.53" font-size="11.9" text-anchor="middle" font-weight="bold" fill="#111">100</text>
<line x1="630.8" y1="332.8" x2="630.8" y2="336.4" stroke="#111" stroke-width="1.8"/>
<text x="630.8" y="349.53" font-size="11.9" text-anchor="middle" font-weight="bold" fill="#111">1000</text>
<text x="523.5" y="361" font-size="12" text-anchor="start" font-weight="bold" fill="#111" textLength="118.5" lengthAdjust="spacingAndGlyphs">transfected DNA (ng)</text>
<path d="M518.3 275.96 L520.21 275.95 L522.11 275.95 L524.02 275.94 L525.92 275.93 L527.83 275.92 L529.73 275.91 L531.64 275.91 L533.54 275.89 L535.45 275.88 L537.35 275.87 L539.26 275.86 L541.16 275.84 L543.07 275.83 L544.97 275.81 L546.88 275.79 L548.78 275.77 L550.69 275.74 L552.59 275.72 L554.5 275.69 L556.4 275.66 L558.31 275.63 L560.21 275.59 L562.12 275.55 L564.02 275.51 L565.93 275.46 L567.83 275.41 L569.74 275.36 L571.64 275.3 L573.55 275.24 L575.45 275.17 L577.36 275.09 L579.26 275.01 L581.17 274.92 L583.07 274.82 L584.98 274.72 L586.88 274.61 L588.79 274.49 L590.69 274.35 L592.6 274.21 L594.5 274.06 L596.41 273.89 L598.31 273.72 L600.22 273.53 L602.12 273.32 L604.03 273.1 L605.93 272.87 L607.84 272.62 L609.74 272.36 L611.65 272.08 L613.55 271.78 L615.46 271.46 L617.36 271.13 L619.27 270.77 L621.17 270.4 L623.08 270.02 L624.98 269.61 L626.89 269.19 L628.79 268.75 L630.7 268.3" fill="none" stroke="#111" stroke-width="1.5" stroke-linejoin="round"/>
<polygon points="531.2,282.08 537.4,269.68 540.8,269.68 534.6,282.08" fill="#fff"/>
<line x1="531.2" y1="282.08" x2="537.4" y2="269.68" stroke="#111" stroke-width="1.3"/>
<line x1="534.6" y1="282.08" x2="540.8" y2="269.68" stroke="#111" stroke-width="1.3"/>
<polygon points="531.2,339 537.4,326.6 540.8,326.6 534.6,339" fill="#fff"/>
<line x1="531.2" y1="339" x2="537.4" y2="326.6" stroke="#111" stroke-width="1.3"/>
<line x1="534.6" y1="339" x2="540.8" y2="326.6" stroke="#111" stroke-width="1.3"/>
<circle cx="518.3" cy="276.7" r="2.6" fill="#111"/>
<circle cx="556" cy="274.3" r="2.6" fill="#111"/>
<circle cx="593.3" cy="274.3" r="2.6" fill="#111"/>
<circle cx="630.7" cy="268.3" r="2.6" fill="#111"/>
<text x="56.2" y="397.4" font-size="22" text-anchor="start" font-weight="bold" fill="#111">(G)</text>
<text x="157.8" y="432.6" font-size="13.4" text-anchor="start" font-weight="bold" fill="#111">GPR61</text>
<text transform="translate(43.9 542.2) rotate(-90)" font-size="12.2" text-anchor="start" font-weight="bold" fill="#111" textLength="86.5" lengthAdjust="spacingAndGlyphs">IP1 production</text>
<text transform="translate(58 579.2) rotate(-90)" font-size="12" text-anchor="start" font-weight="bold" fill="#111" textLength="158" lengthAdjust="spacingAndGlyphs">(fold of &#160;untransfected cells)</text>
<line x1="86" y1="438.1" x2="86" y2="564.2" stroke="#111" stroke-width="1.8"/>
<line x1="82.6" y1="550.1" x2="86" y2="550.1" stroke="#111" stroke-width="1.8"/>
<text x="81.9" y="554.49" font-size="12.2" text-anchor="end" font-weight="bold" fill="#111">0.8</text>
<line x1="82.6" y1="522.2" x2="86" y2="522.2" stroke="#111" stroke-width="1.8"/>
<text x="81.9" y="526.59" font-size="12.2" text-anchor="end" font-weight="bold" fill="#111">1.0</text>
<line x1="82.6" y1="494.3" x2="86" y2="494.3" stroke="#111" stroke-width="1.8"/>
<text x="81.9" y="498.69" font-size="12.2" text-anchor="end" font-weight="bold" fill="#111">1.2</text>
<line x1="82.6" y1="466.4" x2="86" y2="466.4" stroke="#111" stroke-width="1.8"/>
<text x="81.9" y="470.79" font-size="12.2" text-anchor="end" font-weight="bold" fill="#111">1.4</text>
<line x1="82.6" y1="438.5" x2="86" y2="438.5" stroke="#111" stroke-width="1.8"/>
<text x="81.9" y="442.89" font-size="12.2" text-anchor="end" font-weight="bold" fill="#111">1.6</text>
<line x1="90" y1="447" x2="102" y2="447" stroke="#111" stroke-width="1.3"/>
<circle cx="96" cy="447" r="2.7" fill="#111"/>
<text x="110" y="451.5" font-size="12.5" text-anchor="start" font-weight="bold" fill="#111">basal</text>
<line x1="90" y1="464.1" x2="102" y2="464.1" stroke="#111" stroke-width="1.3"/>
<circle cx="96" cy="464.1" r="2.4" fill="#fff" stroke="#111" stroke-width="1.45"/>
<text x="110" y="468.6" font-size="12.5" text-anchor="start" font-weight="bold" fill="#111" textLength="55.3" lengthAdjust="spacingAndGlyphs">MLT 1μM</text>
<line x1="85.3" y1="563.9" x2="255.6" y2="563.9" stroke="#111" stroke-width="1.8"/>
<line x1="117.8" y1="563.9" x2="117.8" y2="567.5" stroke="#111" stroke-width="1.8"/>
<text x="117.8" y="579.73" font-size="11.9" text-anchor="middle" font-weight="bold" fill="#111">0</text>
<line x1="180" y1="563.9" x2="180" y2="567.5" stroke="#111" stroke-width="1.8"/>
<text x="180" y="579.73" font-size="11.9" text-anchor="middle" font-weight="bold" fill="#111">10</text>
<line x1="211.1" y1="563.9" x2="211.1" y2="567.5" stroke="#111" stroke-width="1.8"/>
<text x="211.1" y="579.73" font-size="11.9" text-anchor="middle" font-weight="bold" fill="#111">100</text>
<line x1="242.2" y1="563.9" x2="242.2" y2="567.5" stroke="#111" stroke-width="1.8"/>
<text x="242.2" y="579.73" font-size="11.9" text-anchor="middle" font-weight="bold" fill="#111">1000</text>
<text x="120.3" y="592.5" font-size="12" text-anchor="start" font-weight="bold" fill="#111" textLength="63.3" lengthAdjust="spacingAndGlyphs">transfected</text>
<text x="188.2" y="592.5" font-size="12" text-anchor="start" font-weight="bold" fill="#111" textLength="25.4" lengthAdjust="spacingAndGlyphs">DNA</text>
<text x="217.6" y="592.5" font-size="12" text-anchor="start" font-weight="bold" fill="#111" textLength="21" lengthAdjust="spacingAndGlyphs">(ng)</text>
<line x1="118" y1="536.6" x2="252.5" y2="536.6" stroke="#111" stroke-width="1.3"/>
<line x1="118" y1="540.3" x2="252.5" y2="540.3" stroke="#111" stroke-width="1.3"/>
<polygon points="138.3,571.4 155.5,529.2 160.2,529.2 142.9,571.4" fill="#fff"/>
<line x1="138.3" y1="571.4" x2="155.5" y2="529.2" stroke="#111" stroke-width="1.3"/>
<line x1="142.9" y1="571.4" x2="160.2" y2="529.2" stroke="#111" stroke-width="1.3"/>
<circle cx="117.8" cy="522.6" r="2.6" fill="#111"/>
<circle cx="117.8" cy="531.4" r="1.95" fill="#fff" stroke="#111" stroke-width="1.45"/>
<line x1="179.8" y1="540.9" x2="179.8" y2="554.6" stroke="#111" stroke-width="1.8"/>
<line x1="177.3" y1="540.9" x2="182.3" y2="540.9" stroke="#111" stroke-width="1.8"/>
<line x1="177.3" y1="554.6" x2="182.3" y2="554.6" stroke="#111" stroke-width="1.8"/>
<circle cx="179.8" cy="543.6" r="2.6" fill="#111"/>
<circle cx="179.8" cy="546.2" r="2.6" fill="#111"/>
<circle cx="179.8" cy="550.4" r="1.95" fill="#fff" stroke="#111" stroke-width="1.45"/>
<circle cx="195.6" cy="534.8" r="1.95" fill="#fff" stroke="#111" stroke-width="1.45"/>
<circle cx="195.6" cy="548.9" r="2.6" fill="#111"/>
<line x1="211.1" y1="533.9" x2="211.1" y2="544.6" stroke="#111" stroke-width="1.8"/>
<line x1="208.6" y1="533.9" x2="213.6" y2="533.9" stroke="#111" stroke-width="1.8"/>
<line x1="208.6" y1="544.6" x2="213.6" y2="544.6" stroke="#111" stroke-width="1.8"/>
<circle cx="211.1" cy="537" r="2.6" fill="#111"/>
<circle cx="211.1" cy="541.2" r="2.6" fill="#111"/>
<line x1="226.7" y1="535.4" x2="226.7" y2="547.2" stroke="#111" stroke-width="1.8"/>
<line x1="224.2" y1="535.4" x2="229.2" y2="535.4" stroke="#111" stroke-width="1.8"/>
<line x1="224.2" y1="547.2" x2="229.2" y2="547.2" stroke="#111" stroke-width="1.8"/>
<circle cx="226.7" cy="538.4" r="2.6" fill="#111"/>
<circle cx="226.7" cy="542.4" r="1.95" fill="#fff" stroke="#111" stroke-width="1.45"/>
<circle cx="242.4" cy="538.8" r="1.95" fill="#fff" stroke="#111" stroke-width="1.45"/>
<circle cx="242.4" cy="544.3" r="2.6" fill="#111"/>
<line x1="251.6" y1="516.5" x2="251.6" y2="533.7" stroke="#111" stroke-width="1.8"/>
<line x1="249.1" y1="516.5" x2="254.1" y2="516.5" stroke="#111" stroke-width="1.8"/>
<line x1="249.1" y1="533.7" x2="254.1" y2="533.7" stroke="#111" stroke-width="1.8"/>
<circle cx="251.6" cy="520.2" r="1.95" fill="#fff" stroke="#111" stroke-width="1.45"/>
<circle cx="251.6" cy="528.4" r="2.6" fill="#111"/>
<text x="265.5" y="397.4" font-size="22" text-anchor="start" font-weight="bold" fill="#111">(H)</text>
<text x="351.5" y="433" font-size="13.4" text-anchor="start" font-weight="bold" fill="#111">GPR62</text>
<line x1="281.8" y1="436" x2="281.8" y2="562.6" stroke="#111" stroke-width="1.8"/>
<line x1="278.4" y1="548.4" x2="281.8" y2="548.4" stroke="#111" stroke-width="1.8"/>
<text x="277.5" y="552.79" font-size="12.2" text-anchor="end" font-weight="bold" fill="#111">0.8</text>
<line x1="278.4" y1="520.6" x2="281.8" y2="520.6" stroke="#111" stroke-width="1.8"/>
<text x="277.5" y="524.99" font-size="12.2" text-anchor="end" font-weight="bold" fill="#111">1.0</text>
<line x1="278.4" y1="492.8" x2="281.8" y2="492.8" stroke="#111" stroke-width="1.8"/>
<text x="277.5" y="497.19" font-size="12.2" text-anchor="end" font-weight="bold" fill="#111">1.2</text>
<line x1="278.4" y1="465" x2="281.8" y2="465" stroke="#111" stroke-width="1.8"/>
<text x="277.5" y="469.39" font-size="12.2" text-anchor="end" font-weight="bold" fill="#111">1.4</text>
<line x1="278.4" y1="437.2" x2="281.8" y2="437.2" stroke="#111" stroke-width="1.8"/>
<text x="277.5" y="441.59" font-size="12.2" text-anchor="end" font-weight="bold" fill="#111">1.6</text>
<line x1="285.2" y1="446.3" x2="297.2" y2="446.3" stroke="#111" stroke-width="1.3"/>
<circle cx="291.2" cy="446.3" r="2.7" fill="#111"/>
<text x="305" y="450.8" font-size="12.5" text-anchor="start" font-weight="bold" fill="#111">basal</text>
<line x1="285.2" y1="462.6" x2="297.2" y2="462.6" stroke="#111" stroke-width="1.3"/>
<circle cx="291.2" cy="462.6" r="2.4" fill="#fff" stroke="#111" stroke-width="1.45"/>
<text x="305" y="467.1" font-size="12.5" text-anchor="start" font-weight="bold" fill="#111" textLength="55.3" lengthAdjust="spacingAndGlyphs">MLT 1μM</text>
<line x1="281.1" y1="562.3" x2="467.3" y2="562.3" stroke="#111" stroke-width="1.8"/>
<line x1="300.3" y1="562.3" x2="300.3" y2="565.9" stroke="#111" stroke-width="1.8"/>
<text x="300.3" y="578.13" font-size="11.9" text-anchor="middle" font-weight="bold" fill="#111">0</text>
<line x1="337.6" y1="562.3" x2="337.6" y2="565.9" stroke="#111" stroke-width="1.8"/>
<text x="337.6" y="578.13" font-size="11.9" text-anchor="middle" font-weight="bold" fill="#111">1</text>
<line x1="374.9" y1="562.3" x2="374.9" y2="565.9" stroke="#111" stroke-width="1.8"/>
<text x="374.9" y="578.13" font-size="11.9" text-anchor="middle" font-weight="bold" fill="#111">10</text>
<line x1="412.2" y1="562.3" x2="412.2" y2="565.9" stroke="#111" stroke-width="1.8"/>
<text x="412.2" y="578.13" font-size="11.9" text-anchor="middle" font-weight="bold" fill="#111">100</text>
<line x1="449.5" y1="562.3" x2="449.5" y2="565.9" stroke="#111" stroke-width="1.8"/>
<text x="449.5" y="578.13" font-size="11.9" text-anchor="middle" font-weight="bold" fill="#111">1000</text>
<text x="306.3" y="592.3" font-size="12" text-anchor="start" font-weight="bold" fill="#111" textLength="118.3" lengthAdjust="spacingAndGlyphs">transfected DNA (ng)</text>
<path d="M300.4 517.7 L302.91 517.62 L305.42 517.53 L307.93 517.42 L310.44 517.3 L312.95 517.15 L315.46 516.98 L317.97 516.78 L320.48 516.55 L322.99 516.28 L325.5 515.97 L328.01 515.61 L330.52 515.2 L333.03 514.72 L335.54 514.17 L338.05 513.54 L340.56 512.82 L343.07 512 L345.58 511.08 L348.09 510.05 L350.6 508.89 L353.11 507.61 L355.62 506.21 L358.13 504.67 L360.64 503.01 L363.15 501.24 L365.66 499.36 L368.17 497.4 L370.68 495.37 L373.19 493.3 L375.71 491.21 L378.22 489.14 L380.73 487.1 L383.24 485.11 L385.75 483.21 L388.26 481.41 L390.77 479.72 L393.28 478.16 L395.79 476.72 L398.3 475.4 L400.81 474.22 L403.32 473.15 L405.83 472.2 L408.34 471.36 L410.85 470.62 L413.36 469.97 L415.87 469.4 L418.38 468.9 L420.89 468.47 L423.4 468.1 L425.91 467.77 L428.42 467.5 L430.93 467.26 L433.44 467.05 L435.95 466.87 L438.46 466.72 L440.97 466.59 L443.48 466.48 L445.99 466.38 L448.5 466.3" fill="none" stroke="#111" stroke-width="1.5" stroke-linejoin="round"/>
<path d="M300.4 518.8 L302.91 518.74 L305.42 518.67 L307.93 518.59 L310.44 518.49 L312.95 518.38 L315.46 518.24 L317.97 518.09 L320.48 517.91 L322.99 517.69 L325.5 517.45 L328.01 517.16 L330.52 516.82 L333.03 516.43 L335.54 515.98 L338.05 515.46 L340.56 514.87 L343.07 514.18 L345.58 513.41 L348.09 512.53 L350.6 511.54 L353.11 510.43 L355.62 509.2 L358.13 507.85 L360.64 506.37 L363.15 504.78 L365.66 503.07 L368.17 501.27 L370.68 499.39 L373.19 497.46 L375.71 495.49 L378.22 493.52 L380.73 491.57 L383.24 489.66 L385.75 487.82 L388.26 486.06 L390.77 484.41 L393.28 482.87 L395.79 481.46 L398.3 480.16 L400.81 478.99 L403.32 477.95 L405.83 477.01 L408.34 476.18 L410.85 475.45 L413.36 474.82 L415.87 474.26 L418.38 473.78 L420.89 473.36 L423.4 472.99 L425.91 472.68 L428.42 472.41 L430.93 472.18 L433.44 471.99 L435.95 471.82 L438.46 471.67 L440.97 471.55 L443.48 471.45 L445.99 471.36 L448.5 471.28" fill="none" stroke="#111" stroke-width="1.5" stroke-linejoin="round"/>
<polygon points="308.5,527.6 318.9,509.8 323.3,509.8 312.9,527.6" fill="#fff"/>
<line x1="308.5" y1="527.6" x2="318.9" y2="509.8" stroke="#111" stroke-width="1.3"/>
<line x1="312.9" y1="527.6" x2="323.3" y2="509.8" stroke="#111" stroke-width="1.3"/>
<polygon points="312.7,568 320.7,550 324.9,550 316.9,568" fill="#fff"/>
<line x1="312.7" y1="568" x2="320.7" y2="550" stroke="#111" stroke-width="1.3"/>
<line x1="316.9" y1="568" x2="324.9" y2="550" stroke="#111" stroke-width="1.3"/>
<line x1="300.4" y1="511.7" x2="300.4" y2="528.3" stroke="#111" stroke-width="1.8"/>
<line x1="297.9" y1="511.7" x2="302.9" y2="511.7" stroke="#111" stroke-width="1.8"/>
<line x1="297.9" y1="528.3" x2="302.9" y2="528.3" stroke="#111" stroke-width="1.8"/>
<line x1="297.9" y1="513.5" x2="302.9" y2="513.5" stroke="#111" stroke-width="1.8"/>
<circle cx="300.4" cy="519.6" r="2.6" fill="#111"/>
<circle cx="300.4" cy="517.4" r="1.95" fill="#fff" stroke="#111" stroke-width="1.45"/>
<line x1="337.5" y1="498.9" x2="337.5" y2="511.7" stroke="#111" stroke-width="1.8"/>
<line x1="335" y1="498.9" x2="340" y2="498.9" stroke="#111" stroke-width="1.8"/>
<line x1="335" y1="511.7" x2="340" y2="511.7" stroke="#111" stroke-width="1.8"/>
<circle cx="337.5" cy="507.5" r="2.6" fill="#111"/>
<circle cx="337.5" cy="509.3" r="2.6" fill="#111"/>
<circle cx="337.5" cy="502.9" r="1.95" fill="#fff" stroke="#111" stroke-width="1.45"/>
<line x1="356.6" y1="510.3" x2="356.6" y2="532.2" stroke="#111" stroke-width="1.8"/>
<line x1="354.1" y1="510.3" x2="359.1" y2="510.3" stroke="#111" stroke-width="1.8"/>
<line x1="354.1" y1="532.2" x2="359.1" y2="532.2" stroke="#111" stroke-width="1.8"/>
<circle cx="356.6" cy="521.5" r="2.6" fill="#111"/>
<circle cx="356.6" cy="524.4" r="2.4" fill="#111"/>
<circle cx="356.6" cy="528.1" r="1.95" fill="#fff" stroke="#111" stroke-width="1.45"/>
<line x1="374.8" y1="463.3" x2="374.8" y2="471.6" stroke="#111" stroke-width="1.8"/>
<line x1="372.3" y1="463.3" x2="377.3" y2="463.3" stroke="#111" stroke-width="1.8"/>
<line x1="372.3" y1="471.6" x2="377.3" y2="471.6" stroke="#111" stroke-width="1.8"/>
<circle cx="374.8" cy="467.2" r="1.95" fill="#fff" stroke="#111" stroke-width="1.45"/>
<line x1="374.8" y1="481.1" x2="374.8" y2="498.4" stroke="#111" stroke-width="1.8"/>
<line x1="372.3" y1="481.1" x2="377.3" y2="481.1" stroke="#111" stroke-width="1.8"/>
<line x1="372.3" y1="498.4" x2="377.3" y2="498.4" stroke="#111" stroke-width="1.8"/>
<circle cx="374.8" cy="489.9" r="2.6" fill="#111"/>
<line x1="412.1" y1="473.6" x2="412.1" y2="488" stroke="#111" stroke-width="1.8"/>
<line x1="409.6" y1="473.6" x2="414.6" y2="473.6" stroke="#111" stroke-width="1.8"/>
<line x1="409.6" y1="488" x2="414.6" y2="488" stroke="#111" stroke-width="1.8"/>
<circle cx="412.1" cy="484" r="2.6" fill="#111"/>
<circle cx="412.1" cy="486.2" r="2.6" fill="#111"/>
<circle cx="412.1" cy="479.3" r="1.95" fill="#fff" stroke="#111" stroke-width="1.45"/>
<line x1="449.5" y1="456.3" x2="449.5" y2="474" stroke="#111" stroke-width="2.2"/>
<line x1="447" y1="456.3" x2="452" y2="456.3" stroke="#111" stroke-width="2.2"/>
<line x1="447" y1="474" x2="452" y2="474" stroke="#111" stroke-width="2.2"/>
<line x1="447" y1="470.4" x2="452" y2="470.4" stroke="#111" stroke-width="1.8"/>
<circle cx="449.5" cy="465" r="2.6" fill="#111"/>
<circle cx="449.5" cy="463.4" r="1.95" fill="#fff" stroke="#111" stroke-width="1.45"/>
<text x="475.8" y="397.4" font-size="22" text-anchor="start" font-weight="bold" fill="#111">(I)</text>
<text x="562.4" y="433.2" font-size="13.3" text-anchor="start" font-weight="bold" fill="#111">GPR135</text>
<line x1="495.1" y1="435.4" x2="495.1" y2="560.8" stroke="#111" stroke-width="1.8"/>
<line x1="491.7" y1="547.3" x2="495.1" y2="547.3" stroke="#111" stroke-width="1.8"/>
<text x="490.8" y="551.69" font-size="12.2" text-anchor="end" font-weight="bold" fill="#111">0.8</text>
<line x1="491.7" y1="519.5" x2="495.1" y2="519.5" stroke="#111" stroke-width="1.8"/>
<text x="490.8" y="523.89" font-size="12.2" text-anchor="end" font-weight="bold" fill="#111">1.0</text>
<line x1="491.7" y1="491.7" x2="495.1" y2="491.7" stroke="#111" stroke-width="1.8"/>
<text x="490.8" y="496.09" font-size="12.2" text-anchor="end" font-weight="bold" fill="#111">1.2</text>
<line x1="491.7" y1="463.9" x2="495.1" y2="463.9" stroke="#111" stroke-width="1.8"/>
<text x="490.8" y="468.29" font-size="12.2" text-anchor="end" font-weight="bold" fill="#111">1.4</text>
<line x1="491.7" y1="436.1" x2="495.1" y2="436.1" stroke="#111" stroke-width="1.8"/>
<text x="490.8" y="440.49" font-size="12.2" text-anchor="end" font-weight="bold" fill="#111">1.6</text>
<line x1="499.5" y1="445.8" x2="511.5" y2="445.8" stroke="#111" stroke-width="1.3"/>
<circle cx="505.5" cy="445.8" r="2.7" fill="#111"/>
<text x="516.9" y="450.3" font-size="12.5" text-anchor="start" font-weight="bold" fill="#111">basal</text>
<line x1="499.5" y1="460.8" x2="511.5" y2="460.8" stroke="#111" stroke-width="1.3"/>
<circle cx="505.5" cy="460.8" r="2.4" fill="#fff" stroke="#111" stroke-width="1.45"/>
<text x="516.9" y="465.3" font-size="12.5" text-anchor="start" font-weight="bold" fill="#111" textLength="55.3" lengthAdjust="spacingAndGlyphs">MLT 1μM</text>
<line x1="494.5" y1="560.5" x2="672.6" y2="560.5" stroke="#111" stroke-width="1.8"/>
<line x1="527.2" y1="560.5" x2="527.2" y2="564.1" stroke="#111" stroke-width="1.8"/>
<text x="527.2" y="577.53" font-size="11.9" text-anchor="middle" font-weight="bold" fill="#111">0</text>
<line x1="589.2" y1="560.5" x2="589.2" y2="564.1" stroke="#111" stroke-width="1.8"/>
<text x="589.2" y="577.53" font-size="11.9" text-anchor="middle" font-weight="bold" fill="#111">10</text>
<line x1="620.2" y1="560.5" x2="620.2" y2="564.1" stroke="#111" stroke-width="1.8"/>
<text x="620.2" y="577.53" font-size="11.9" text-anchor="middle" font-weight="bold" fill="#111">100</text>
<line x1="651.2" y1="560.5" x2="651.2" y2="564.1" stroke="#111" stroke-width="1.8"/>
<text x="651.2" y="577.53" font-size="11.9" text-anchor="middle" font-weight="bold" fill="#111">1000</text>
<text x="523.3" y="591.6" font-size="12" text-anchor="start" font-weight="bold" fill="#111" textLength="118.3" lengthAdjust="spacingAndGlyphs">transfected DNA (ng)</text>
<line x1="526.5" y1="518.8" x2="661.5" y2="518.8" stroke="#111" stroke-width="1.45"/>
<line x1="526.5" y1="521.7" x2="661.5" y2="521.7" stroke="#111" stroke-width="1.45"/>
<polygon points="547.15,528.55 557.15,510.25 561.05,510.25 551.05,528.55" fill="#fff"/>
<line x1="547.15" y1="528.55" x2="557.15" y2="510.25" stroke="#111" stroke-width="1.3"/>
<line x1="551.05" y1="528.55" x2="561.05" y2="510.25" stroke="#111" stroke-width="1.3"/>
<polygon points="549.4,571.9 556,553.5 560,553.5 553.4,571.9" fill="#fff"/>
<line x1="549.4" y1="571.9" x2="556" y2="553.5" stroke="#111" stroke-width="1.3"/>
<line x1="553.4" y1="571.9" x2="560" y2="553.5" stroke="#111" stroke-width="1.3"/>
<line x1="526.9" y1="502.7" x2="526.9" y2="523.2" stroke="#111" stroke-width="1.8"/>
<line x1="524.4" y1="502.7" x2="529.4" y2="502.7" stroke="#111" stroke-width="1.8"/>
<line x1="524.4" y1="523.2" x2="529.4" y2="523.2" stroke="#111" stroke-width="1.8"/>
<line x1="524.4" y1="515.4" x2="529.4" y2="515.4" stroke="#111" stroke-width="2.2"/>
<circle cx="526.9" cy="509.9" r="1.95" fill="#fff" stroke="#111" stroke-width="1.45"/>
<circle cx="526.9" cy="518.5" r="2.6" fill="#111"/>
<circle cx="526.9" cy="521" r="2.6" fill="#111"/>
<line x1="589" y1="490.9" x2="589" y2="508.9" stroke="#111" stroke-width="2.2"/>
<line x1="586.5" y1="490.9" x2="591.5" y2="490.9" stroke="#111" stroke-width="2.2"/>
<line x1="586.5" y1="508.9" x2="591.5" y2="508.9" stroke="#111" stroke-width="2.2"/>
<line x1="586.5" y1="492.2" x2="591.5" y2="492.2" stroke="#111" stroke-width="2.2"/>
<circle cx="589" cy="500.3" r="2.8" fill="#111"/>
<line x1="620.6" y1="530.4" x2="620.6" y2="539.5" stroke="#111" stroke-width="1.8"/>
<line x1="618.1" y1="530.4" x2="623.1" y2="530.4" stroke="#111" stroke-width="1.8"/>
<line x1="618.1" y1="539.5" x2="623.1" y2="539.5" stroke="#111" stroke-width="1.8"/>
<circle cx="620.6" cy="532.2" r="2.5" fill="#111"/>
<circle cx="620.6" cy="535.3" r="1.95" fill="#fff" stroke="#111" stroke-width="1.45"/>
<line x1="651.7" y1="504.2" x2="651.7" y2="518.5" stroke="#111" stroke-width="1.8"/>
<line x1="649.2" y1="504.2" x2="654.2" y2="504.2" stroke="#111" stroke-width="1.8"/>
<line x1="649.2" y1="518.5" x2="654.2" y2="518.5" stroke="#111" stroke-width="1.8"/>
<circle cx="651.7" cy="510.9" r="2.6" fill="#111"/>
<circle cx="651.7" cy="518.7" r="2.6" fill="#111"/>
<line x1="651.7" y1="521.5" x2="651.7" y2="532.7" stroke="#111" stroke-width="1.8"/>
<line x1="649.2" y1="521.5" x2="654.2" y2="521.5" stroke="#111" stroke-width="1.8"/>
<line x1="649.2" y1="532.7" x2="654.2" y2="532.7" stroke="#111" stroke-width="1.8"/>
<circle cx="651.7" cy="526.5" r="1.95" fill="#fff" stroke="#111" stroke-width="1.45"/>
<line x1="661" y1="522.9" x2="661" y2="532.2" stroke="#111" stroke-width="1.8"/>
<line x1="658.5" y1="522.9" x2="663.5" y2="522.9" stroke="#111" stroke-width="1.8"/>
<line x1="658.5" y1="532.2" x2="663.5" y2="532.2" stroke="#111" stroke-width="1.8"/>
<circle cx="661" cy="532.2" r="2.6" fill="#111"/>
<circle cx="661" cy="528" r="1.95" fill="#fff" stroke="#111" stroke-width="1.45"/>
<text x="57.3" y="649.3" font-size="23" text-anchor="start" font-weight="bold" fill="#111">(J)</text>
<text x="2.3" y="680.4" font-size="14.2" text-anchor="start" font-weight="bold" fill="#111" textLength="145" lengthAdjust="spacingAndGlyphs">Transfected DNA (ng)</text>
<text x="164.6" y="680.6" font-size="13.3" text-anchor="middle" font-weight="bold" fill="#111">0</text>
<text x="184.6" y="680.6" font-size="13.3" text-anchor="middle" font-weight="bold" fill="#111">1</text>
<text x="208.4" y="680.6" font-size="13.3" text-anchor="middle" font-weight="bold" fill="#111">10</text>
<text x="231.6" y="680.6" font-size="13.3" text-anchor="middle" font-weight="bold" fill="#111">100</text>
<text x="259.8" y="680.6" font-size="13.3" text-anchor="middle" font-weight="bold" fill="#111">300</text>
<text x="291.4" y="680.6" font-size="13.3" text-anchor="middle" font-weight="bold" fill="#111">1000</text>
<text x="135" y="711.6" font-size="15.2" text-anchor="end" font-weight="bold" fill="#111" textLength="77" lengthAdjust="spacingAndGlyphs">HA-GPR61</text>
<text x="135" y="739.4" font-size="15.2" text-anchor="end" font-weight="bold" fill="#111" textLength="77" lengthAdjust="spacingAndGlyphs">HA-GPR62</text>
<text x="135" y="767.2" font-size="15.2" text-anchor="end" font-weight="bold" fill="#111" textLength="85.7" lengthAdjust="spacingAndGlyphs">HA-GPR135</text>
<defs>
<filter id="bl1" x="-20%" y="-50%" width="140%" height="200%"><feGaussianBlur stdDeviation="1.4"/></filter>
<filter id="bl2" x="-20%" y="-50%" width="140%" height="200%"><feGaussianBlur stdDeviation="0.8"/></filter>
<filter id="bl3" x="-20%" y="-50%" width="140%" height="200%"><feGaussianBlur stdDeviation="2.2"/></filter>
<filter id="noise" x="0" y="0" width="100%" height="100%"><feTurbulence type="fractalNoise" baseFrequency="0.7" numOctaves="2" seed="3"/><feColorMatrix type="matrix" values="0 0 0 0 0  0 0 0 0 0  0 0 0 0 0  0 0 0 -1.1 0.62"/></filter>
<clipPath id="cp1"><rect x="151.7" y="696.1" width="152.8" height="19.2"/></clipPath>
<clipPath id="cp2"><rect x="151.7" y="724.4" width="152.8" height="20.0"/></clipPath>
<clipPath id="cp3"><rect x="151.7" y="752.4" width="152.8" height="19.6"/></clipPath>
<linearGradient id="g1bg" x1="0" x2="1"><stop offset="0" stop-color="#dcdcdc"/><stop offset="0.5" stop-color="#e2e2e2"/><stop offset="0.6" stop-color="#d6d6d6"/><stop offset="0.66" stop-color="#c2c2c2"/><stop offset="1" stop-color="#c8c8c8"/></linearGradient>
</defs>
<g clip-path="url(#cp1)">
<rect x="151" y="695" width="155" height="22" fill="url(#g1bg)"/>
<g filter="url(#bl1)">
<ellipse cx="158.5" cy="707.2" rx="6.5" ry="2.6" fill="#a9a9a9"/>
<ellipse cx="184" cy="707" rx="6" ry="2.5" fill="#d8d8d8"/>
<rect x="253" y="695" width="21" height="9" fill="#5e5e5e"/>
<rect x="253.5" y="703" width="20" height="9" fill="#282828"/>
<rect x="275.5" y="695" width="14.5" height="20" fill="#080808"/>
<rect x="289.5" y="695" width="7.5" height="20" fill="#3a3a3a"/>
<rect x="288.5" y="701.5" width="8.5" height="9.5" fill="#101010"/>
<rect x="274.5" y="699.5" width="13" height="14" fill="#000"/>
<rect x="298" y="695" width="8" height="22" fill="#d4d4d4"/>
</g>
<circle cx="190.7" cy="704.4" r="0.9" fill="#555"/><circle cx="205.6" cy="706.8" r="0.7" fill="#999"/>
</g>
<rect x="151.5" y="695.4" width="153.2" height="20.5" fill="none" stroke="#111" stroke-width="1.6"/>
<g clip-path="url(#cp2)">
<linearGradient id="g2bg" x1="0" x2="1"><stop offset="0" stop-color="#c4c4c4"/><stop offset="0.5" stop-color="#c9c9c9"/><stop offset="1" stop-color="#c2c2c2"/></linearGradient>
<rect x="151" y="723" width="155" height="23" fill="url(#g2bg)"/>
<rect x="151" y="723" width="155" height="23" filter="url(#noise)" opacity="0.3"/>
<g filter="url(#bl1)">
<rect x="276" y="728" width="22" height="14" fill="#ababab"/>
<rect x="253" y="734.5" width="18" height="5" fill="#8e8e8e"/>
</g>
<g filter="url(#bl2)">
<path d="M268 733.5 L284 738 L283 739.6 L267 735 Z" fill="#808080"/>
<ellipse cx="257.6" cy="729.6" rx="3.8" ry="1.5" fill="#1a1a1a"/>
<ellipse cx="292.4" cy="731.0" rx="2.4" ry="2.0" fill="#1a1a1a"/>
<path d="M276.5 739.8 L286 737.2 L298 736.2 L298 738.8 L287 739.6 L277.5 741.3 Z" fill="#2a2a2a"/>
<ellipse cx="262" cy="737.4" rx="7" ry="1.3" fill="#6a6a6a"/>
</g>
<circle cx="171" cy="731" r="0.7" fill="#444"/><circle cx="233" cy="739" r="0.6" fill="#555"/>
</g>
<rect x="151.5" y="723.8" width="153.2" height="21.2" fill="none" stroke="#111" stroke-width="1.6"/>
<g clip-path="url(#cp3)">
<rect x="151" y="751" width="155" height="23" fill="#dadada"/>
<rect x="151" y="751" width="155" height="23" filter="url(#noise)" opacity="0.25"/>
<path d="M212 770 L222 756 L224 757 L214 771 Z" fill="#c4c4c4" filter="url(#bl1)"/>
<g filter="url(#bl2)">
<ellipse cx="263" cy="763.8" rx="9" ry="2.6" fill="#4a4a4a"/>
<ellipse cx="257.6" cy="763.6" rx="4.6" ry="2.9" fill="#1c1c1c"/>
<ellipse cx="268.6" cy="763.7" rx="4.0" ry="2.6" fill="#333"/>
<rect x="277.2" y="760.4" width="19.6" height="7.4" rx="3.6" fill="#050505"/>
</g>
<circle cx="198" cy="757" r="0.7" fill="#555"/><circle cx="233" cy="756.5" r="0.7" fill="#666"/>
</g>
<rect x="151.5" y="751.8" width="153.2" height="20.8" fill="none" stroke="#111" stroke-width="1.6"/>
</g>
</svg>
</body></html>
